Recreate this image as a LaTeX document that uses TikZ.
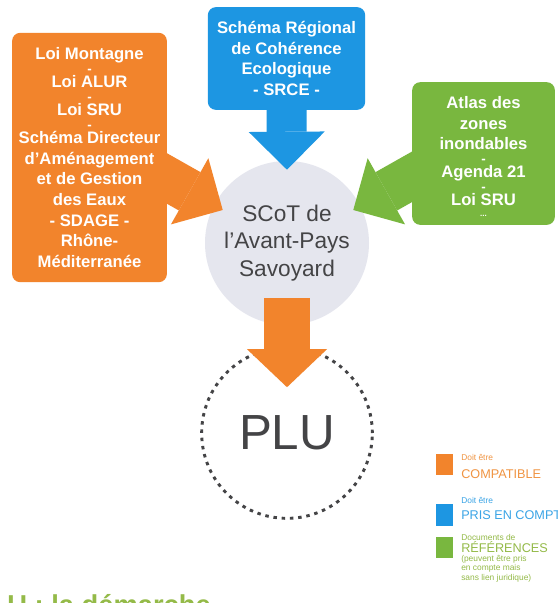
\documentclass[tikz,border=0pt]{standalone}
\usepackage{fontspec}
\setmainfont{Liberation Sans}
\usetikzlibrary{arrows.meta}

\definecolor{loiorange}{RGB}{242,132,44}
\definecolor{srceblue}{RGB}{29,150,226}
\definecolor{refgreen}{RGB}{121,183,63}
\definecolor{scotgray}{RGB}{229,230,238}
\definecolor{textgray}{RGB}{68,68,70}
\definecolor{legorange}{RGB}{240,148,66}
\definecolor{legblue}{RGB}{58,164,230}
\definecolor{leggreen}{RGB}{148,186,72}

\tikzset{
  box/.style={rounded corners=6pt, inner sep=0pt, align=center, text=white,
    font=\bfseries\fontsize{12.5}{15.5}\selectfont},
  fatarrow/.style={line width=33pt, -{Triangle[width=57pt,length=28.5pt,line width=0pt]}},
  legsq/.style={minimum width=12.75pt, minimum height=16pt, inner sep=0pt},
  legtext/.style={anchor=north west, inner sep=0pt, align=left,
    font=\fontsize{9.5}{9}\selectfont}
}
\newcommand{\petit}{\fontsize{6.3}{7}\selectfont}
\newcommand{\tiret}{{\fontsize{10}{10}\selectfont -}}

\begin{document}
\begin{tikzpicture}[x=0.75pt,y=-0.75pt]
                    \fill[white] (0,0) rectangle (557,603);
                    \useasboundingbox (0,0) rectangle (557,603);

                    %NODE
                    \node[box, fill=loiorange, minimum width=116pt, minimum height=187pt] (lois) at (89.5,157.5)
                      {Loi Montagne\\[-5pt]\tiret\\[-5pt]Loi ALUR\\[-5pt]\tiret\\[-5pt]Loi SRU\\[-5pt]\tiret\\[-5pt]Schéma Directeur\\d’Aménagement\\et de Gestion\rlap{\hspace{6pt}\color{black}·}\\des Eaux\\- SDAGE -\\Rhône-\\Méditerranée};
                    \node[box, fill=srceblue, minimum width=118pt, minimum height=77pt] (srce) at (286.5,58.5)
                      {Schéma Régional\\de Cohérence\\Ecologique\\- SRCE -};
                    \node[box, fill=refgreen, minimum width=107pt, minimum height=107pt] (atlas) at (483.5,153.5)
                      {\rule{0pt}{13.7pt}Atlas des\\zones\\inondables\\[-5pt]\tiret\\[-5pt]Agenda 21\\[-5pt]\tiret\\[-5pt]Loi SRU\\[-7.25pt]{\fontsize{6}{6}\selectfont ...}};
                    \node[circle, fill=scotgray, minimum size=123pt, inner sep=0pt, align=center, text=textgray,
                      font=\fontsize{17}{20.6}\selectfont] (scot) at (287,243) {SCoT de\\l’Avant-Pays\\Savoyard};
                    \node[circle, draw=textgray, line width=2.2pt, dash pattern=on 2.6pt off 3.6pt, minimum size=128pt,
                      inner sep=0pt, text=textgray, font=\fontsize{37}{40}\selectfont] (plu) at (287,433) {PLU};

                    %EDGE
                    \draw[fatarrow, draw=loiorange, fill=loiorange] ([xshift=-12.75pt,yshift=-8.6pt]lois.east) -- ([xshift=13.5pt,yshift=24.75pt]scot.west);
                    \draw[fatarrow, draw=refgreen, fill=refgreen] ([xshift=10.5pt,yshift=-11.6pt]atlas.west) -- ([xshift=-12pt,yshift=24.75pt]scot.east);
                    \draw[fatarrow, line width=30pt, draw=srceblue, fill=srceblue] ([yshift=7.5pt]srce.south) -- ([yshift=-6.75pt]scot.north);
                    \draw[fatarrow, line width=34.5pt, -{Triangle[width=60pt,length=28.5pt,line width=0pt]}, draw=loiorange, fill=loiorange]
                      ([yshift=20.25pt]scot.south) -- ([yshift=-30.75pt]plu.north);

                    %LEGEND
                    \node[legsq, fill=loiorange] (leg-c) at (444.5,464.5) {};
                    \node[legsq, fill=srceblue] (leg-p) at (444.5,515) {};
                    \node[legsq, fill=refgreen] (leg-r) at (444.5,547.5) {};
                    \node[legtext, text=legorange] (leg-c-txt) at (461,454) {{\petit Doit être}\\[4.5pt]COMPATIBLE};
                    \node[legtext, text=legblue] (leg-p-txt) at (461,497) {{\petit Doit être}\\[3pt]PRIS EN COMPTE};
                    \node[legtext, text=leggreen] (leg-r-txt) at (461,534)
                      {{\petit Documents de}\\RÉFÉRENCES\\[-2.25pt]{\petit (peuvent être pris}\\[-2pt]{\petit en compte mais}\\[-2pt]{\petit sans lien juridique)}};

                    %TITLE
                    \node[anchor=base west, inner sep=0pt, text=leggreen, font=\bfseries\fontsize{20.5}{24}\selectfont] (titre) at (7,614) {U : la démarche};
                \end{tikzpicture}
\end{document}
